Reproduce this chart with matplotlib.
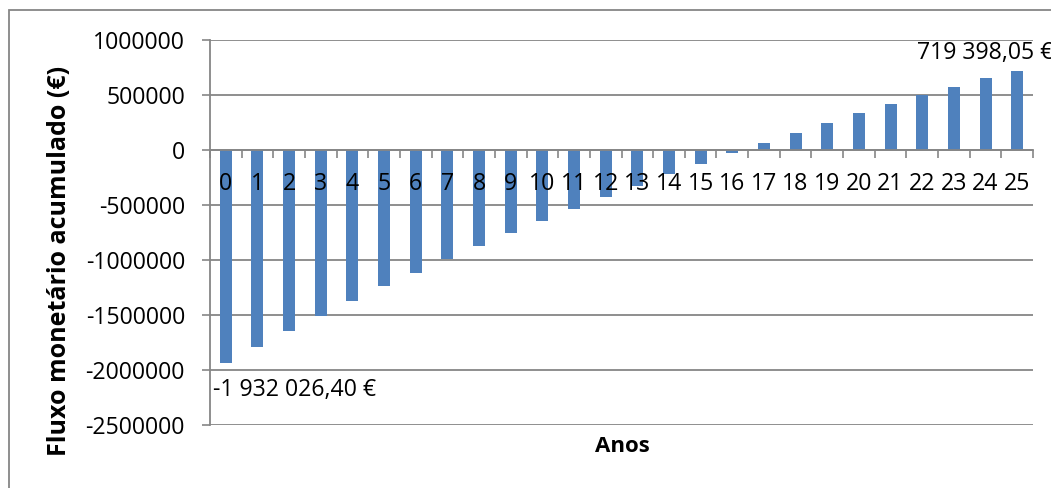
import matplotlib
matplotlib.use("Agg")
import matplotlib.pyplot as plt
from matplotlib.patches import Rectangle
from matplotlib.ticker import FixedLocator, NullFormatter

# Cumulative cash flow per year (EUR)
anos = list(range(26))
fluxo_acumulado = [
    -1932026.40, -1787000, -1644000, -1507000, -1373000, -1239000,
    -1114000, -993000, -874000, -758000, -642000, -533000, -426000,
    -326000, -218000, -127000, -29000, 66000, 151000, 243000, 332000,
    415000, 497000, 573000, 653000, 719398.05,
]
y_ticks = [1000000, 500000, 0, -500000, -1000000, -1500000, -2000000, -2500000]
rotulo_inicial = "-1 932 026,40 €"
rotulo_final = "719 398,05 €"

plt.rcParams["font.family"] = ["Open Sans", "DejaVu Sans"]
W, H = 1051, 488
fig = plt.figure(figsize=(W / 100, H / 100), dpi=100)

grid_col = "#868686"
bar_col = "#4F81BD"
fs = 16.7

ax = fig.add_axes([210 / W, (H - 425) / H, (1033 - 210) / W, (425 - 40) / H])
ax.set_axisbelow(False)

# Horizontal gridlines behind the bars
for v in y_ticks:
    ax.axhline(v, color=grid_col, linewidth=1.3, zorder=1)
ax.bar(anos, fluxo_acumulado, width=0.38, color=bar_col, zorder=2)

ax.set_xlim(-0.5, 25.5)
ax.set_ylim(-2500000, 1000000)
ax.set_yticks(y_ticks)
ax.set_yticklabels([str(v) for v in y_ticks], fontsize=fs)
ax.tick_params(axis="y", length=6, width=1.2, color=grid_col, pad=12)

# Category axis crossing at zero
ax.spines["bottom"].set_position(("data", 0))
ax.spines["bottom"].set_color(grid_col)
ax.spines["bottom"].set_linewidth(1.3)
ax.spines["left"].set_color(grid_col)
ax.spines["left"].set_linewidth(1.3)
ax.spines["top"].set_visible(False)
ax.spines["right"].set_visible(False)

ax.xaxis.set_major_locator(FixedLocator([i - 0.5 for i in range(27)]))
ax.xaxis.set_major_formatter(NullFormatter())
ax.xaxis.set_minor_locator(FixedLocator(anos))
ax.set_xticklabels([str(a) for a in anos], minor=True, fontsize=fs)
ax.tick_params(axis="x", which="major", length=6, width=1.2, color=grid_col, direction="out")
ax.tick_params(axis="x", which="minor", length=0, pad=16)

# Value labels at first and last year
ax.annotate(rotulo_inicial, xy=(anos[0], fluxo_acumulado[0]), xytext=(-13, -27),
            textcoords="offset pixels", ha="left", va="center", fontsize=fs,
            annotation_clip=False)
ax.annotate(rotulo_final, xy=(anos[-1], fluxo_acumulado[-1]), xytext=(-100, 18),
            textcoords="offset pixels", ha="left", va="center", fontsize=fs,
            annotation_clip=False)

fig.text(622 / W, 1 - 447 / H, "Anos", ha="center", va="center",
         fontsize=16, fontweight="bold")
fig.text(60 / W, 1 - 261 / H, "Fluxo monetário acumulado (€)", ha="center",
         va="center", rotation=90, fontsize=18, fontweight="bold")

# Chart area border
fig.patches.append(Rectangle((9 / W, -0.1), 1.2, 1 - 10 / H + 0.1,
                             transform=fig.transFigure, fill=False,
                             edgecolor=grid_col, linewidth=1.3))

fig.savefig("out.png", dpi=100)
